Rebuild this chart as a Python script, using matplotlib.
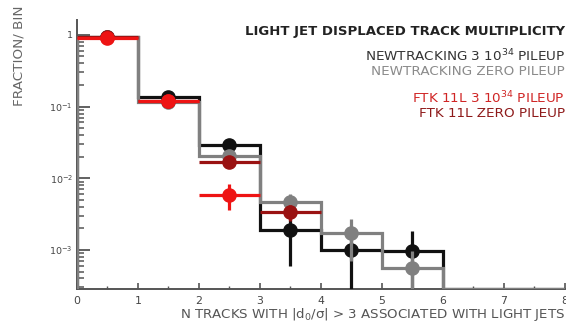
import numpy as np
import matplotlib
matplotlib.use("Agg")
import matplotlib.pyplot as plt
from matplotlib.ticker import FixedLocator, LogLocator, NullFormatter, MultipleLocator

plt.rcParams['font.family'] = ['DejaVu Sans']
plt.rcParams['mathtext.default'] = 'regular'

# Bin edges: number of displaced tracks
edges = np.arange(0, 9)
centers = edges[:-1] + 0.5

# NEWTRACKING, 3e34 pileup (black)
nt_pu = np.array([0.93, 0.135, 0.0287, 0.0019, 0.00099, 0.00097, 0.0, 0.0])
nt_pu_err = np.array([0.01, 0.004, 0.003, 0.0013, 0.00075, 0.00088, 0.0, 0.0])
# NEWTRACKING, zero pileup (gray)
nt_zero = np.array([0.93, 0.115, 0.0207, 0.0046, 0.00171, 0.00056, 0.0, 0.0])
nt_zero_err = np.array([0.01, 0.004, 0.002, 0.0015, 0.001, 0.0004, 0.0, 0.0])
# FTK 11L, 3e34 pileup (red)
ftk_pu = np.array([0.91, 0.12, 0.0059, 0.0, 0.0, 0.0, 0.0, 0.0])
ftk_pu_err = np.array([0.01, 0.004, 0.0023, 0.0, 0.0, 0.0, 0.0, 0.0])
# FTK 11L, zero pileup (dark red)
ftk_zero = np.array([0.92, 0.12, 0.0170, 0.0034, 0.0, 0.0, 0.0, 0.0])
ftk_zero_err = np.array([0.01, 0.004, 0.002, 0.0009, 0.0, 0.0, 0.0, 0.0])

y_ticks = [1e-3, 1e-2, 1e-1, 1]
y_tick_labels = [r'$10^{-3}$', r'$10^{-2}$', r'$10^{-1}$', '1']
x_ticks = list(range(0, 9))

c_black = '#111111'
c_gray = '#808080'
c_red = '#ee1414'
c_dred = '#9a1212'

ymin, ymax = 2.85e-4, 1.62

fig = plt.figure(figsize=(5.66, 3.26), dpi=100)
ax = fig.add_axes([0.136, 0.1135, 0.862, 0.8255])
ax.set_yscale('log')
ax.set_xlim(0, 8)
ax.set_ylim(ymin, ymax)

lw = 2.3
ms = 9.5


def hist_series(vals, errs, color, z):
    ax.stairs(np.maximum(vals, ymin), edges, baseline=ymin, color=color,
              lw=lw, zorder=z)
    m = vals > 0
    ax.errorbar(centers[m], vals[m], yerr=errs[m], fmt='o', color=color,
                ms=ms, elinewidth=lw, capsize=0, zorder=z + 0.5)


def point_series(vals, errs, color, z, size):
    m = vals > 0
    ax.errorbar(centers[m], vals[m], yerr=errs[m], xerr=0.5, fmt='o',
                color=color, ms=size, elinewidth=lw, capsize=0, zorder=z)


hist_series(nt_pu, nt_pu_err, c_black, 2)
hist_series(nt_zero, nt_zero_err, c_gray, 3)
point_series(ftk_zero, ftk_zero_err, c_dred, 4, ms)
point_series(ftk_pu, ftk_pu_err, c_red, 5, ms)

# Axes styling
for s in ('top', 'right'):
    ax.spines[s].set_visible(False)
for s in ('left', 'bottom'):
    ax.spines[s].set_color('#555555')
    ax.spines[s].set_linewidth(1.4)
    ax.spines[s].set_zorder(1)

ax.yaxis.set_major_locator(FixedLocator(y_ticks))
ax.set_yticklabels(y_tick_labels)
ax.yaxis.set_minor_locator(LogLocator(base=10, subs=np.arange(2, 10)))
ax.yaxis.set_minor_formatter(NullFormatter())
ax.xaxis.set_major_locator(FixedLocator(x_ticks))
ax.set_xticklabels([str(t) for t in x_ticks])
ax.xaxis.set_minor_locator(MultipleLocator(0.5))

ax.tick_params(axis='y', which='major', direction='in', length=9.5, width=1.3,
               color='#555555', labelsize=6.8, labelcolor='#444444', pad=3)
ax.tick_params(axis='y', which='minor', direction='in', length=5, width=1.1,
               color='#555555')
ax.tick_params(axis='x', which='major', direction='in', length=4, width=1.2,
               color='#555555', labelsize=7.8, labelcolor='#444444', pad=5)
ax.tick_params(axis='x', which='minor', direction='in', length=2.5, width=1.0,
               color='#555555')

ax.set_xlabel(r'N TRACKS WITH |d$_0$/$\sigma$| > 3 ASSOCIATED WITH LIGHT JETS',
              fontsize=9.6, color='#555555', loc='right', labelpad=0)
fig.text(0.034, 0.982, 'FRACTION/ BIN', rotation=90, ha='center', va='top',
         fontsize=9.7, color='#666666')

# Legend block
fig.text(0.998, 0.902, 'LIGHT JET DISPLACED TRACK MULTIPLICITY', ha='right',
         va='center', fontsize=9.55, fontweight='bold', color='#222222')
fig.text(0.998, 0.829, r'NEWTRACKING 3 $10^{34}$ PILEUP', ha='right',
         va='center', fontsize=9.7, color='#333333')
fig.text(0.998, 0.781, 'NEWTRACKING ZERO PILEUP', ha='right', va='center',
         fontsize=9.7, color='#8a8a8a')
fig.text(0.998, 0.700, r'FTK 11L 3 $10^{34}$ PILEUP', ha='right', va='center',
         fontsize=9.7, color='#d02525')
fig.text(0.998, 0.652, 'FTK 11L ZERO PILEUP', ha='right', va='center',
         fontsize=9.7, color='#8e1a1a')

fig.savefig('out.png', dpi=100)
